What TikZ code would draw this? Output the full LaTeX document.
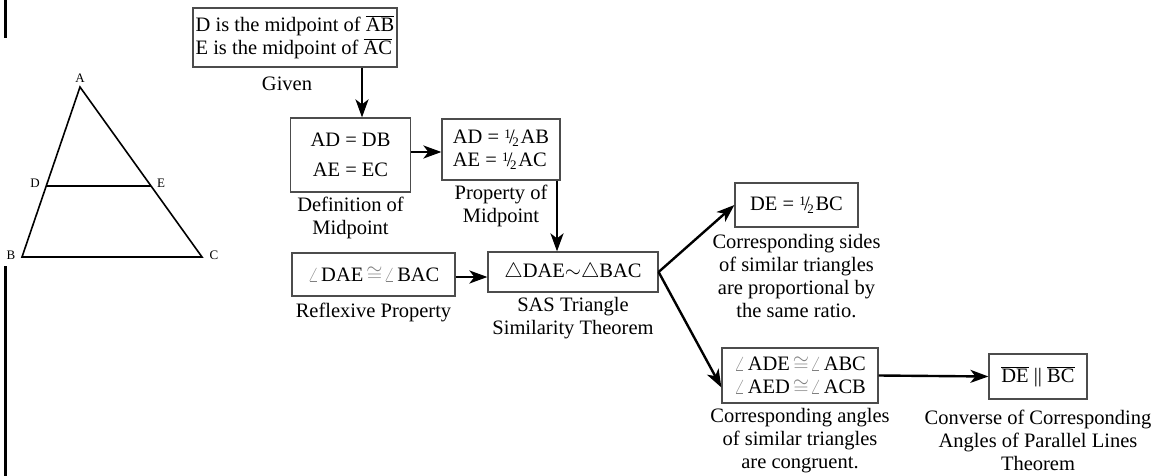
\documentclass[tikz,border=0pt]{standalone}
\usepackage{fontspec}
\setmainfont{Liberation Serif}
\usetikzlibrary{arrows.meta}
\newcommand\hlf{\raisebox{.6ex}{\fontsize{13}{13}\selectfont 1}\kern-.08em/\kern-.12em\raisebox{-.25ex}{\fontsize{13}{13}\selectfont 2}\kern.08em}
\newcommand\seg[1]{$\overline{\mbox{#1}}$}
\newcommand\ang{{\color{gray}$\angle$}\kern.12em}
\newcommand\cng{\kern.15em{\color{gray}$\cong$}\kern.05em}
\begin{document}
\begin{tikzpicture}[x=1pt,y=-1pt,
   font=\fontsize{20.5}{23}\selectfont,
   stmt/.style={draw=black!70,line width=1.2pt,inner sep=2pt,align=center},
   why/.style={anchor=north,align=center,inner sep=0pt},
   pt/.style={font=\fontsize{13}{13}\selectfont,inner sep=0pt},
   flow/.style={line width=2.4pt,-{Stealth[length=18pt,width=13pt,inset=5pt]}}]
   \useasboundingbox (0,0) rectangle (1157,476);
   \draw[line width=3pt] (5,0) -- (5,38);
   \draw[line width=3pt] (5,266) -- (5,476);
  %
   \coordinate (A) at (80,87);
   \coordinate (B) at (22,257);
   \coordinate (C) at (202,257);
   \coordinate (D) at (47,186);
   \coordinate (E) at (151,186);
   \draw[line width=1.6pt,line join=miter] (A) -- (B) -- (C) -- cycle;
   \draw[line width=1.6pt] (D) -- (E);
   \node[pt] (lA) at (80,78) {A};
   \node[pt] (lD) at (35,183) {D};
   \node[pt] (lE) at (161,183) {E};
   \node[pt] (lB) at (11,255) {B};
   \node[pt] (lC) at (214,255) {C};
  %
   \node[stmt,align=left,minimum width=204pt,minimum height=59pt] (given) at (295,37.5)
      {D is the midpoint of \seg{AB}\\E is the midpoint of \seg{AC}};
   \node[why] (tgiven) at (287,77) {Given};
   \node[stmt,minimum width=120pt,minimum height=74pt] (def) at (350.5,155)
      {AD = DB\\[7pt]AE = EC};
   \node[why] (tdef) at ([yshift=-4pt]def.south) {Definition of\\Midpoint};
   \node[stmt,align=left,minimum width=118pt,minimum height=61pt] (prop) at (501,149.5)
      {AD = \hlf AB\\AE = \hlf AC};
   \node[why] (tprop) at ([yshift=-4pt]prop.south) {Property of\\Midpoint};
   \node[stmt,minimum width=163pt,minimum height=43pt] (refl) at (373.5,274.5)
      {\ang DAE\cng\ang BAC};
   \node[why] (trefl) at ([yshift=-6pt]refl.south) {Reflexive Property};
   \node[stmt,minimum width=170pt,minimum height=40pt] (sas) at (573,272)
      {$\triangle$DAE$\sim$$\triangle$BAC};
   \node[why] (tsas) at ([yshift=-4pt]sas.south) {SAS Triangle\\Similarity Theorem};
   \node[stmt,minimum width=123pt,minimum height=44pt] (half) at (796.5,205)
      {DE = \hlf BC};
   \node[why] (thalf) at ([yshift=-6pt]half.south)
      {Corresponding sides\\of similar triangles\\are proportional by\\the same ratio.};
   \node[stmt,minimum width=156pt,minimum height=55pt] (angs) at (800,375.5)
      {\ang ADE\cng\ang ABC\\\ang AED\cng\ang ACB};
   \node[why] (tangs) at ([yshift=-4pt]angs.south)
      {Corresponding angles\\of similar triangles\\are congruent.};
   \node[stmt,minimum width=98pt,minimum height=45pt] (par) at (1038,376.5)
      {\seg{DE} || \seg{BC}};
   \node[why] (tpar) at ([yshift=-10pt]par.south)
      {Converse of Corresponding\\Angles of Parallel Lines\\Theorem};
  %
   \draw[flow] (given.south -| 362,0) -- (def.north -| 362,0);
   \draw[flow] (def.east |- 0,152) -- (prop.west |- 0,152);
   \draw[flow] (prop.south -| 557,0) -- (sas.north -| 557,0);
   \draw[flow] (refl.east |- 0,277) -- (sas.west |- 0,277);
   \draw[flow] (sas.east) -- (half.west);
   \draw[flow] (sas.east) -- ([yshift=-12pt]angs.west);
   \draw[flow] (angs.east) -- (par.west);
\end{tikzpicture}
\end{document}
